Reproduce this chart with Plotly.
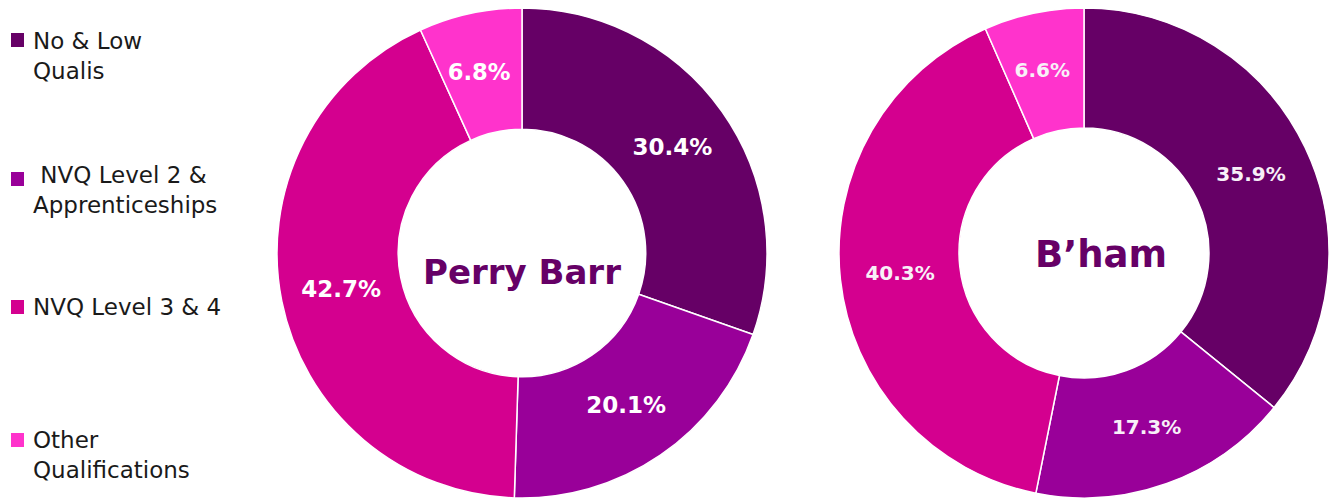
import plotly.graph_objects as go

categories = ["No & Low Qualis", "NVQ Level 2 & Apprenticeships", "NVQ Level 3 & 4", "Other Qualifications"]
legend_labels = ["No & Low<br>Qualis", " NVQ Level 2 &<br>Apprenticeships", "NVQ Level 3 & 4", "Other<br>Qualifications"]
perry_barr = [30.4, 20.1, 42.7, 6.8]
birmingham = [35.9, 17.3, 40.3, 6.6]
colors = ["#660066", "#990099", "#D4008F", "#FF33CC"]
titles = ["Perry Barr", "B’ham"]

W, H = 1333, 499

pad = "<span style='font-size:26px'> </span><br>"
templates = ["%{value:.1f}%", "%{value:.1f}%", "%{value:.1f}%", pad + "%{value:.1f}%"]

fig = go.Figure()
fig.add_trace(go.Pie(
    labels=categories, values=perry_barr, hole=0.505, sort=False, direction="clockwise",
    rotation=0, marker=dict(colors=colors, line=dict(color="white", width=1.5)),
    texttemplate=templates, textposition="inside", insidetextorientation="horizontal",
    textfont=dict(family="DejaVu Sans", size=23, color="white", weight="bold"),
    domain=dict(x=[0.2078, 0.5754], y=[0.002, 0.984]), showlegend=False, hoverinfo="label+value"))
fig.add_trace(go.Pie(
    labels=categories, values=birmingham, hole=0.51, sort=False, direction="clockwise",
    rotation=0, marker=dict(colors=colors, line=dict(color="white", width=1.5)),
    texttemplate=templates, textposition="inside", insidetextorientation="horizontal",
    textfont=dict(family="DejaVu Sans", size=20, color="#f8f0f8", weight="bold"),
    domain=dict(x=[0.6294, 0.997], y=[0.002, 0.984]), showlegend=False, hoverinfo="label+value"))

annotations = [
    dict(text="<b>" + titles[0] + "</b>", x=522 / W, y=0.455, xref="paper", yref="paper",
         xanchor="center", yanchor="middle",
         showarrow=False, font=dict(family="DejaVu Sans", size=34, color="#660066")),
    dict(text="<b>" + titles[1] + "</b>", x=1101 / W, y=0.49, xref="paper", yref="paper",
         xanchor="center", yanchor="middle",
         showarrow=False, font=dict(family="DejaVu Sans", size=37, color="#660066")),
]
legend_tops = [26, 160, 292, 425]
for lab, top in zip(legend_labels, legend_tops):
    annotations.append(dict(text=lab, x=31 / W, y=1 - top / H, xref="paper", yref="paper", showarrow=False,
                            xanchor="left", yanchor="top", align="left",
                            font=dict(family="DejaVu Sans", size=23, color="#1a1a1a")))
square_tops = [33, 172, 300, 433]
shapes = []
for col, top in zip(colors, square_tops):
    shapes.append(dict(type="rect", xref="paper", yref="paper",
                       x0=11 / W, x1=24 / W, y0=1 - (top + 14) / H, y1=1 - top / H,
                       fillcolor=col, line=dict(width=0)))

fig.update_layout(width=W, height=H, margin=dict(l=0, r=0, t=0, b=0),
                  paper_bgcolor="white", plot_bgcolor="white",
                  annotations=annotations, shapes=shapes)
fig.write_html("out.html", config={"displayModeBar": False},
               post_script="document.body.style.margin='0';document.body.style.overflow='hidden';")
